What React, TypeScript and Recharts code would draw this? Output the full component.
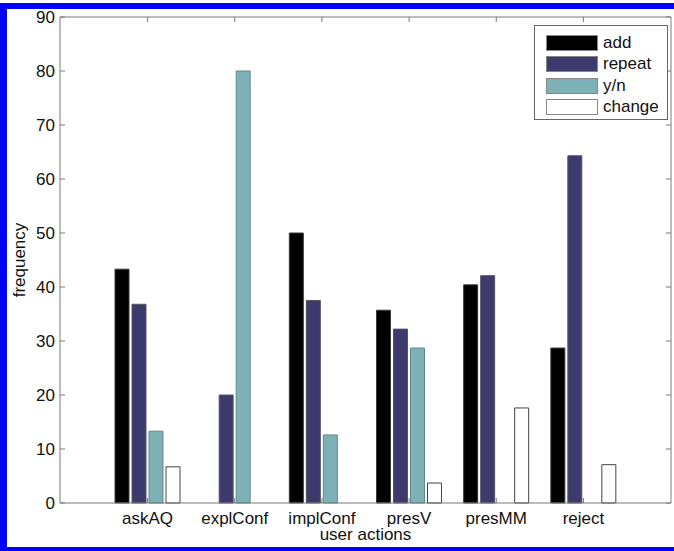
import { BarChart, Bar, XAxis, YAxis, Legend, CartesianGrid, ReferenceLine } from 'recharts'

const actions = ['askAQ', 'explConf', 'implConf', 'presV', 'presMM', 'reject']
const addValues = [43.3, 0, 50, 35.7, 40.4, 28.7]
const repeatValues = [36.8, 20, 37.5, 32.2, 42.1, 64.3]
const ynValues = [13.3, 80, 12.6, 28.7, 0, 0]
const changeValues = [6.7, 0, 0, 3.7, 17.6, 7.1]
const yTicks = [0, 10, 20, 30, 40, 50, 60, 70, 80, 90]

const series = [
  { key: 'add', fill: '#000000', stroke: '#3a3a3a' },
  { key: 'repeat', fill: '#3d3b6d', stroke: '#555566' },
  { key: 'y/n', fill: '#7db1b6', stroke: '#5f8a8e' },
  { key: 'change', fill: '#ffffff', stroke: '#444444' },
]

const data = actions.map((name, i) => ({
  name,
  add: addValues[i],
  repeat: repeatValues[i],
  'y/n': ynValues[i],
  change: changeValues[i],
}))

const FONT = 'Liberation Sans, Arial, Helvetica, sans-serif'
const AXIS = '#7a7a7a'
const tickStyle = { fill: '#111', fontSize: 17, fontFamily: FONT }

function LegendBox() {
  return (
    <div
      style={{
        border: '1px solid #666',
        background: '#fff',
        width: 134,
        height: 95,
        boxSizing: 'border-box',
        padding: '6px 0 0 11px',
        fontFamily: FONT,
        fontSize: 17,
        color: '#111',
      }}
    >
      {series.map((s) => (
        <div key={s.key} style={{ display: 'flex', alignItems: 'center', height: 21.5 }}>
          <span
            style={{
              display: 'inline-block',
              width: 52,
              height: 16,
              background: s.fill,
              border: '1px solid #888',
              boxSizing: 'border-box',
              marginRight: 5,
            }}
          />
          <span>{s.key}</span>
        </div>
      ))}
    </div>
  )
}

// short inward tick on the top edge (matlab box ticks)
const TopTick = (p: any) => {
  const top = Math.min(p.y1, p.y2)
  return <line x1={p.x1} x2={p.x1} y1={top} y2={top + 5} stroke={AXIS} />
}

// short inward tick on the right edge
const RightTick = (p: any) => {
  const right = Math.max(p.x1, p.x2)
  return <line x1={right - 5} x2={right} y1={p.y1} y2={p.y1} stroke={AXIS} />
}

export default function App() {
  return (
    <div style={{ position: 'fixed', left: 0, top: 0, width: 674, height: 551, background: '#fff' }}>
      <div style={{ position: 'absolute', left: 0, top: 3, width: 674, height: 6, background: '#0000ff' }} />
      <div style={{ position: 'absolute', left: 0, top: 3, width: 7, height: 548, background: '#0000ff' }} />
      <div style={{ position: 'absolute', left: 0, top: 547, width: 674, height: 4, background: '#0000ff' }} />
      <div style={{ position: 'absolute', left: 0, top: 0 }}>
        <BarChart
          width={674}
          height={551}
          data={data}
          margin={{ top: 17, right: 3, bottom: 18, left: 0 }}
          barSize={14}
          barGap={3}
        >
          <CartesianGrid
            stroke={AXIS}
            horizontalCoordinatesGenerator={({ offset }: any) => [offset.top]}
            verticalCoordinatesGenerator={({ offset }: any) => [offset.left + offset.width]}
          />
          <XAxis
            dataKey="name"
            height={30}
            padding={{ left: 44, right: 44 }}
            stroke={AXIS}
            tickSize={-5}
            tickMargin={14}
            tick={tickStyle}
            label={{
              value: 'user actions',
              content: (p: any) => (
                <text
                  x={p.viewBox.x + p.viewBox.width / 2}
                  y={p.viewBox.y + 37}
                  textAnchor="middle"
                  fontSize={17}
                  fontFamily={FONT}
                  fill="#111"
                >
                  user actions
                </text>
              ),
            }}
          />
          <YAxis
            width={60}
            domain={[0, 90]}
            ticks={yTicks}
            stroke={AXIS}
            tickSize={-5}
            tickMargin={10}
            tick={tickStyle}
            label={{
              value: 'frequency',
              content: (p: any) => {
                const x = p.viewBox.x + 19
                const y = p.viewBox.y + p.viewBox.height / 2
                return (
                  <text
                    x={x}
                    y={y}
                    transform={`rotate(-90, ${x}, ${y})`}
                    textAnchor="middle"
                    dominantBaseline="central"
                    fontSize={17}
                    fontFamily={FONT}
                    fill="#111"
                  >
                    frequency
                  </text>
                )
              },
            }}
          />
          {actions.map((a) => (
            <ReferenceLine key={'t' + a} x={a} shape={TopTick} />
          ))}
          {yTicks.map((v) => (
            <ReferenceLine key={'r' + v} y={v} shape={RightTick} />
          ))}
          <Legend
            layout="vertical"
            align="center"
            verticalAlign="middle"
            content={() => <LegendBox />}
            wrapperStyle={{ left: 534, top: 25, width: 134, height: 95 }}
          />
          {series.map((s) => (
            <Bar
              key={s.key}
              dataKey={s.key}
              fill={s.fill}
              stroke={s.stroke}
              strokeWidth={1}
              isAnimationActive={false}
            />
          ))}
        </BarChart>
      </div>
    </div>
  )
}
